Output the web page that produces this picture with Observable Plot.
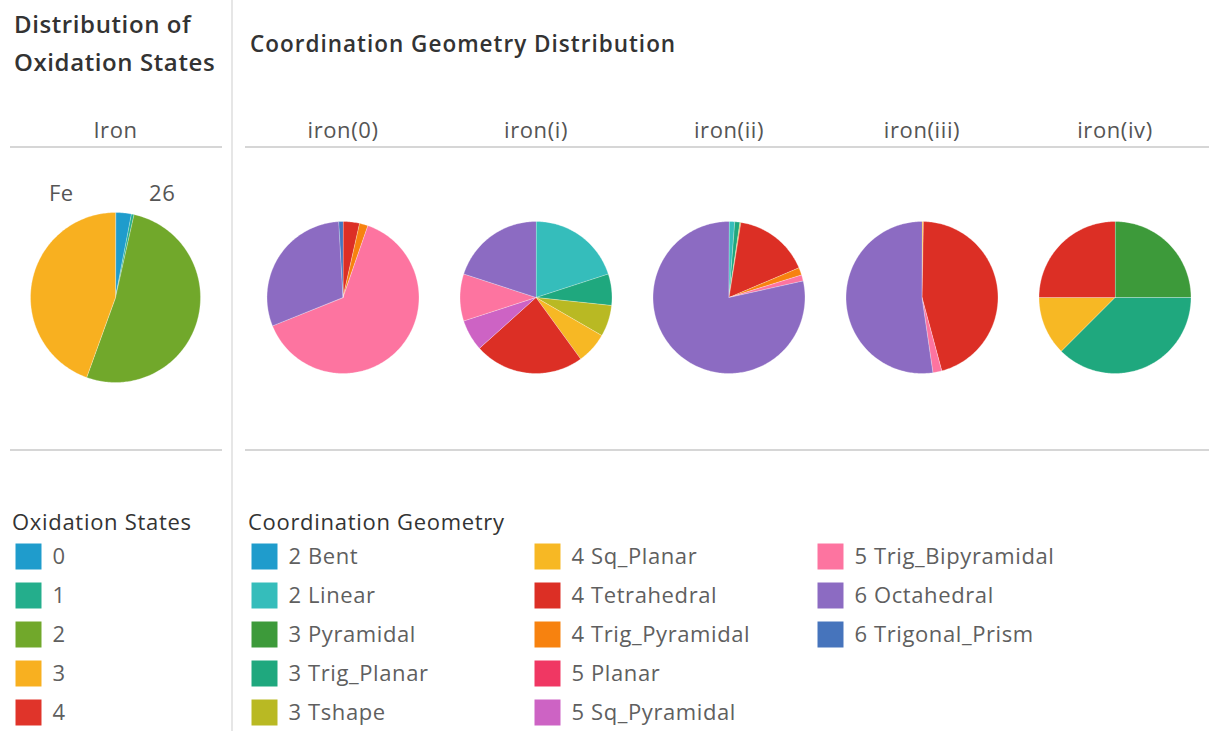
<!DOCTYPE html>
<html>
<head>
<meta charset="utf-8">
<script src="https://cdn.jsdelivr.net/npm/d3@7"></script>
<script src="https://cdn.jsdelivr.net/npm/@observablehq/plot@0.6"></script>
<style>
  html, body { margin: 0; padding: 0; background: #fff; overflow: hidden; }
  body { font-family: "Open Sans", "Noto Sans", sans-serif; }
  #root { position: relative; width: 1209px; height: 731px; }
  .title { color: #333; font-weight: 600; white-space: nowrap; }
  .hline { position: absolute; height: 2px; background: #d6d6d6; }
  .vline { position: absolute; width: 2px; background: #e6e6e6; }
  .lbl { color: #555; white-space: nowrap; }
  .legtitle { color: #333; font-size: 22px; letter-spacing: 0.7px; font-weight: 500; white-space: nowrap; }
</style>
</head>
<body>
<div id="root"></div>
<script>
// ---------------- data ----------------
const oxidationStates = ["0", "1", "2", "3", "4"];
const oxidationColors = ["#1f9ccc", "#24ae8c", "#71a82b", "#f8b020", "#e0342a"];
const ironOxidationShare = [3.0, 0.5, 52.0, 44.5, 0]; // % of iron entries by oxidation state

const geometries = ["2 Bent", "2 Linear", "3 Pyramidal", "3 Trig_Planar", "3 Tshape",
  "4 Sq_Planar", "4 Tetrahedral", "4 Trig_Pyramidal", "5 Planar", "5 Sq_Pyramidal",
  "5 Trig_Bipyramidal", "6 Octahedral", "6 Trigonal_Prism"];
const geometryColors = ["#1f9ccc", "#35bdbb", "#3d9a3a", "#1fa87e", "#b9b923",
  "#f7b824", "#dc2f25", "#f7820f", "#f03763", "#cd63c4",
  "#fd74a0", "#8c6bc2", "#4674bc"];

const ironStates = ["iron(0)", "iron(i)", "iron(ii)", "iron(iii)", "iron(iv)"];
const iron0   = [0, 0,   0, 0,   0,   0,   3.5,  1.8, 0, 0, 63.6, 30.2, 0.9];
const ironI   = [0, 6,   0, 2,   2,   2,   7,    0,   0, 2, 3,    6,    0];
const ironII  = [0, 1.2, 0, 1.1, 0.2, 0,   16.1, 1.6, 0, 0, 1.3,  78.5, 0];
const ironIII = [0, 0,   0, 0,   0,   0.3, 45.5, 0,   0, 0, 1.9,  52.3, 0];
const ironIV  = [0, 0,   2, 3,   0,   1,   2,    0,   0, 0, 0,    0,    0];
const geometryByState = [iron0, ironI, ironII, ironIII, ironIV];

const elementHeader = "Iron";
const elementSymbol = "Fe";
const atomicNumber = "26";

// ---------------- helpers ----------------
// turn values into closed polygon outlines (unit radius, 0 at 12 o'clock, clockwise)
function pieRows(values, names, facet) {
  const arcs = d3.pie().sort(null)(values);
  const rows = [];
  arcs.forEach((a, i) => {
    const span = a.endAngle - a.startAngle;
    if (span <= 0) return;
    const key = facet + "|" + names[i];
    rows.push({facet, key, cat: names[i], x: 0, y: 0});
    const n = Math.max(2, Math.ceil(span / (Math.PI / 180)));
    for (let k = 0; k <= n; k++) {
      const t = a.startAngle + span * k / n;
      rows.push({facet, key, cat: names[i], x: Math.sin(t), y: Math.cos(t)});
    }
  });
  return rows;
}

const root = document.getElementById("root");
function place(el, left, top) {
  el.style.position = "absolute";
  el.style.left = left + "px";
  el.style.top = top + "px";
  root.appendChild(el);
  return el;
}
function div(cls, text, left, top, extra) {
  const d = document.createElement("div");
  d.className = cls;
  if (text != null) d.textContent = text;
  Object.assign(d.style, extra || {});
  return place(d, left, top);
}

// ---------------- structure ----------------
div("vline", null, 231, 0, {height: "731px"});
div("hline", null, 10, 146, {width: "212px"});
div("hline", null, 245, 146, {width: "964px"});
div("hline", null, 10, 449, {width: "212px"});
div("hline", null, 245, 449, {width: "964px"});

div("title", null, 14, 5, {fontSize: "24px", lineHeight: "38px", letterSpacing: "0.6px"}).innerHTML = "Distribution of<br>Oxidation States";
div("title", "Coordination Geometry Distribution", 250, 28, {fontSize: "22.5px", letterSpacing: "1px"});

// ---------------- pies ----------------
const plotStyle = {fontSize: "22px", fontFamily: "Open Sans, Noto Sans, sans-serif", color: "#555", letterSpacing: "0.6px", background: "transparent", overflow: "visible"};

function piePlot({rows, facets, colorDomain, colorRange, width, radius}) {
  const height = 354, marginTop = 40;
  const halfW = width / facets.length / 2 / radius;
  const halfH = (height - marginTop) / 2 / radius;
  return Plot.plot({
    width, height, marginTop, marginLeft: 0, marginRight: 0, marginBottom: 0,
    style: plotStyle,
    x: {domain: [-halfW, halfW], axis: null},
    y: {domain: [-halfH, halfH], axis: null},
    fx: {domain: facets, padding: 0, axis: "top", label: null, tickSize: 0, tickPadding: 3},
    color: {domain: colorDomain, range: colorRange},
    marks: [
      Plot.line(rows, {
        fx: "facet", x: "x", y: "y", z: "key",
        fill: "cat", stroke: "white", strokeWidth: 0.5, strokeOpacity: 0.6,
        curve: "linear-closed"
      })
    ]
  });
}

const leftRows = pieRows(ironOxidationShare, oxidationStates, elementHeader);
place(piePlot({rows: leftRows, facets: [elementHeader], colorDomain: oxidationStates, colorRange: oxidationColors, width: 212, radius: 85}), 9, 100);

const rightRows = geometryByState.flatMap((vals, i) => pieRows(vals, geometries, ironStates[i]));
place(piePlot({rows: rightRows, facets: ironStates, colorDomain: geometries, colorRange: geometryColors, width: 965, radius: 76}), 246, 100);

div("lbl", elementSymbol, 49, 177, {fontSize: "22px", letterSpacing: "0.4px"});
div("lbl", atomicNumber, 149, 177, {fontSize: "22px", letterSpacing: "0.6px"});

// ---------------- legends ----------------
div("legtitle", "Oxidation States", 12, 506);
div("legtitle", "Coordination Geometry", 248, 506);

function legendPlot({names, colors, perCol, colRange, width}) {
  const items = names.map((name, i) => ({name, col: Math.floor(i / perCol), row: i % perCol}));
  const nCols = Math.ceil(names.length / perCol);
  return Plot.plot({
    width, height: 200, margin: 0,
    style: plotStyle,
    x: {type: "linear", domain: [0, Math.max(1, nCols - 1)], range: colRange, axis: null},
    y: {type: "linear", domain: [0, perCol - 1], range: [26, 182], axis: null},
    color: {domain: names, range: colors},
    marks: [
      Plot.dot(items, {x: "col", y: "row", fill: "name", symbol: "square", r: 26 / Math.sqrt(Math.PI)}),
      Plot.text(items, {x: "col", y: "row", text: "name", dx: 24, textAnchor: "start", fill: "#5f5f5f", fontSize: 22})
    ]
  });
}

place(legendPlot({names: oxidationStates, colors: oxidationColors, perCol: 5, colRange: [28, 328], width: 220}), 0, 530);
place(legendPlot({names: geometries, colors: geometryColors, perCol: 5, colRange: [264 - 245, 830 - 245], width: 964}), 245, 530);
</script>
</body>
</html>
